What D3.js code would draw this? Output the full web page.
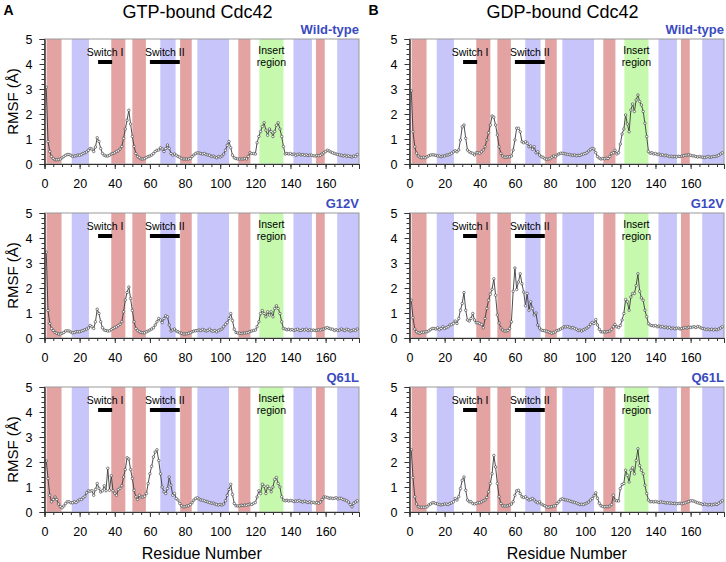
<!DOCTYPE html>
<html>
<head>
<meta charset="utf-8">
<script src="https://cdn.jsdelivr.net/npm/d3@7"></script>
<style>
  body { margin: 0; background: #fff; }
  text { font-family: "Liberation Sans", Arial, sans-serif; fill: #000; }
</style>
</head>
<body>
<svg id="chart" width="726" height="562"></svg>
<script>
// RMSF per residue (Å), residues 1..178
var gtpWT = [3.07,0.9,0.5,0.3,0.22,0.17,0.17,0.18,0.2,0.25,
  0.3,0.35,0.38,0.38,0.35,0.3,0.32,0.33,0.36,0.35,
  0.38,0.42,0.45,0.48,0.55,0.62,0.6,0.5,0.68,1.05,
  0.9,0.62,0.42,0.35,0.32,0.32,0.35,0.4,0.42,0.45,
  0.5,0.53,0.6,0.7,1.02,1.4,1.75,2.15,1.6,1.1,
  0.7,0.42,0.3,0.25,0.2,0.2,0.22,0.26,0.3,0.32,
  0.36,0.42,0.5,0.55,0.56,0.65,0.6,0.5,0.62,0.76,
  0.62,0.42,0.36,0.4,0.35,0.3,0.27,0.22,0.2,0.2,
  0.2,0.2,0.22,0.3,0.36,0.42,0.45,0.44,0.42,0.4,
  0.42,0.38,0.36,0.35,0.3,0.32,0.28,0.25,0.3,0.28,
  0.32,0.4,0.55,0.75,0.9,0.65,0.35,0.25,0.22,0.2,
  0.2,0.2,0.2,0.22,0.2,0.3,0.45,0.42,0.42,0.4,
  0.85,1.1,1.3,1.5,1.65,1.35,1.15,1.4,1.3,1.1,
  1.3,1.55,1.65,1.4,1.1,0.7,0.4,0.42,0.4,0.42,
  0.38,0.4,0.35,0.38,0.4,0.36,0.38,0.35,0.37,0.34,
  0.36,0.35,0.33,0.32,0.34,0.33,0.35,0.4,0.45,0.5,
  0.55,0.52,0.48,0.45,0.42,0.4,0.38,0.36,0.35,0.32,
  0.35,0.3,0.33,0.3,0.28,0.32,0.3,0.38];

var gtpG12V = [3.43,1.1,0.58,0.38,0.3,0.22,0.19,0.16,0.16,0.19,
  0.22,0.28,0.29,0.28,0.24,0.21,0.22,0.25,0.25,0.25,
  0.28,0.3,0.33,0.36,0.4,0.5,0.45,0.38,0.65,1.15,
  0.98,0.65,0.41,0.32,0.3,0.28,0.29,0.34,0.38,0.42,
  0.45,0.5,0.55,0.65,1.05,1.52,1.82,2.04,1.58,1.1,
  0.65,0.38,0.3,0.25,0.22,0.21,0.21,0.25,0.28,0.32,
  0.36,0.41,0.52,0.65,0.78,0.72,0.62,0.78,0.89,0.85,
  0.52,0.28,0.32,0.36,0.28,0.25,0.21,0.19,0.16,0.16,
  0.17,0.19,0.21,0.25,0.28,0.29,0.3,0.32,0.3,0.34,
  0.31,0.28,0.3,0.35,0.29,0.27,0.3,0.25,0.3,0.33,
  0.36,0.45,0.55,0.62,0.78,0.98,0.7,0.35,0.22,0.2,
  0.19,0.18,0.2,0.2,0.21,0.22,0.26,0.28,0.3,0.32,
  0.45,0.65,0.98,1.1,0.98,0.85,1.05,0.92,1.05,0.85,
  1.18,1.29,1.18,0.98,0.65,0.38,0.36,0.33,0.35,0.32,
  0.34,0.3,0.33,0.35,0.31,0.3,0.34,0.32,0.35,0.3,
  0.33,0.3,0.32,0.3,0.31,0.33,0.32,0.35,0.36,0.4,
  0.42,0.38,0.36,0.35,0.3,0.33,0.3,0.32,0.36,0.32,
  0.3,0.35,0.33,0.28,0.3,0.33,0.3,0.36];

var gtpQ61L = [2.04,1.34,0.67,0.41,0.5,0.6,0.5,0.32,0.21,0.17,
  0.24,0.34,0.41,0.41,0.37,0.37,0.41,0.38,0.44,0.5,
  0.5,0.57,0.63,0.77,0.85,0.83,0.85,0.67,0.9,1.14,
  0.95,0.8,0.85,1.05,0.85,1.75,0.87,1.45,0.85,0.75,
  0.67,0.9,0.95,1.05,1.4,1.7,2.17,2.12,1.7,1.34,
  0.87,0.61,0.5,0.67,0.6,0.6,0.63,0.74,1.14,1.53,
  1.83,2.2,2.4,2.49,2.06,1.53,1.0,0.81,0.74,0.94,
  1.4,1.07,0.67,0.74,0.54,0.48,0.34,0.25,0.21,0.21,
  0.24,0.25,0.3,0.37,0.48,0.54,0.57,0.52,0.48,0.47,
  0.45,0.42,0.4,0.38,0.35,0.36,0.32,0.3,0.28,0.3,
  0.28,0.32,0.45,0.67,0.9,1.11,0.7,0.34,0.25,0.24,
  0.25,0.27,0.26,0.28,0.27,0.3,0.32,0.3,0.35,0.38,
  0.6,0.85,0.74,1.11,1.03,0.74,1.03,0.94,0.81,1.0,
  1.3,1.38,1.14,1.0,0.61,0.48,0.45,0.47,0.44,0.46,
  0.45,0.42,0.44,0.43,0.46,0.42,0.4,0.43,0.4,0.38,
  0.41,0.37,0.39,0.36,0.38,0.35,0.4,0.5,0.6,0.6,
  0.58,0.55,0.56,0.54,0.55,0.57,0.52,0.55,0.54,0.5,
  0.48,0.45,0.4,0.3,0.21,0.35,0.4,0.45];

var gdpWT = [2.93,1.29,0.69,0.43,0.32,0.27,0.25,0.27,0.25,0.29,
  0.33,0.36,0.37,0.36,0.35,0.32,0.32,0.29,0.32,0.32,
  0.36,0.36,0.39,0.43,0.49,0.53,0.49,0.56,0.96,1.49,
  1.56,1.03,0.56,0.49,0.45,0.43,0.36,0.45,0.45,0.43,
  0.49,0.56,0.69,0.96,1.25,1.56,1.92,1.87,1.56,1.16,
  0.69,0.43,0.32,0.27,0.27,0.29,0.29,0.32,0.56,0.96,
  1.43,1.43,1.29,0.89,0.85,0.89,0.83,0.69,0.72,0.59,
  0.69,0.45,0.49,0.36,0.29,0.27,0.21,0.19,0.2,0.21,
  0.27,0.32,0.29,0.36,0.4,0.43,0.43,0.42,0.4,0.38,
  0.38,0.36,0.35,0.36,0.33,0.35,0.34,0.38,0.4,0.42,
  0.45,0.52,0.58,0.62,0.6,0.45,0.3,0.24,0.2,0.22,
  0.21,0.23,0.22,0.3,0.42,0.45,0.55,0.4,0.45,0.8,
  1.2,1.4,1.96,1.6,1.29,2.16,2.4,2.1,2.56,2.76,
  2.5,2.36,2.1,1.63,1.1,0.5,0.43,0.45,0.4,0.42,
  0.38,0.4,0.35,0.37,0.33,0.35,0.32,0.3,0.31,0.29,
  0.3,0.29,0.31,0.3,0.32,0.33,0.35,0.36,0.37,0.35,
  0.33,0.32,0.3,0.28,0.3,0.28,0.27,0.26,0.28,0.3,
  0.27,0.28,0.3,0.3,0.32,0.35,0.4,0.45];

var gdpG12V = [1.51,0.81,0.36,0.25,0.21,0.19,0.23,0.23,0.25,0.25,
  0.29,0.34,0.38,0.38,0.36,0.41,0.34,0.38,0.45,0.38,
  0.42,0.45,0.52,0.54,0.58,0.68,0.58,0.78,1.11,1.38,
  1.82,1.11,0.72,0.68,0.78,0.98,0.72,0.61,0.61,0.58,
  0.54,0.41,0.78,1.18,1.51,1.75,1.95,2.37,1.71,0.92,
  0.6,0.4,0.32,0.28,0.28,0.3,0.38,0.65,1.87,2.8,
  1.94,2.24,2.57,2.17,1.84,1.29,1.78,1.11,1.45,1.18,
  0.92,1.0,0.52,0.4,0.32,0.3,0.29,0.27,0.25,0.22,
  0.19,0.22,0.25,0.3,0.32,0.36,0.4,0.45,0.44,0.46,
  0.43,0.4,0.42,0.38,0.35,0.3,0.32,0.28,0.33,0.36,
  0.4,0.45,0.55,0.62,0.58,0.74,0.52,0.35,0.25,0.24,
  0.25,0.24,0.26,0.28,0.35,0.45,0.54,0.45,0.42,0.5,
  0.72,0.98,1.54,1.45,1.11,1.64,1.78,1.78,2.1,2.57,
  1.87,1.6,1.51,1.11,0.85,0.58,0.52,0.5,0.48,0.5,
  0.45,0.48,0.44,0.46,0.42,0.44,0.4,0.43,0.38,0.4,
  0.37,0.39,0.4,0.36,0.38,0.4,0.42,0.4,0.43,0.42,
  0.44,0.45,0.42,0.46,0.44,0.4,0.38,0.36,0.34,0.36,
  0.33,0.35,0.32,0.35,0.33,0.36,0.4,0.45];

var gdpQ61L = [2.49,1.38,0.61,0.32,0.21,0.19,0.19,0.19,0.19,0.21,
  0.28,0.32,0.37,0.37,0.34,0.32,0.3,0.28,0.3,0.32,
  0.32,0.3,0.34,0.37,0.41,0.54,0.48,0.61,0.94,1.27,
  1.4,0.87,0.48,0.41,0.41,0.34,0.32,0.34,0.37,0.37,
  0.41,0.45,0.48,0.58,0.81,1.14,1.53,2.26,1.8,1.14,
  0.61,0.34,0.25,0.24,0.24,0.25,0.28,0.32,0.41,0.67,
  0.85,0.87,0.74,0.61,0.58,0.61,0.54,0.48,0.5,0.54,
  0.48,0.41,0.37,0.41,0.32,0.28,0.25,0.21,0.19,0.21,
  0.21,0.24,0.25,0.34,0.41,0.5,0.53,0.5,0.48,0.47,
  0.45,0.42,0.4,0.38,0.36,0.33,0.3,0.31,0.3,0.33,
  0.36,0.4,0.48,0.54,0.65,0.77,0.55,0.35,0.25,0.22,
  0.21,0.22,0.21,0.24,0.3,0.67,0.48,0.45,0.44,0.94,
  1.1,1.14,1.67,1.47,1.2,1.67,1.77,1.53,2.06,2.53,
  1.86,1.67,1.53,1.07,0.74,0.48,0.41,0.42,0.4,0.42,
  0.4,0.38,0.41,0.39,0.38,0.36,0.37,0.35,0.36,0.34,
  0.35,0.33,0.34,0.35,0.33,0.35,0.37,0.4,0.42,0.45,
  0.45,0.43,0.4,0.37,0.35,0.33,0.3,0.32,0.3,0.28,
  0.3,0.28,0.3,0.32,0.3,0.35,0.4,0.45];

// secondary structure shading (residue ranges)
var bands = [
  {from: 1.2, to: 9.7, kind: "strand"},
  {from: 15.5, to: 25.3, kind: "helix"},
  {from: 38, to: 46, kind: "strand"},
  {from: 50, to: 57.7, kind: "strand"},
  {from: 65.9, to: 74.6, kind: "helix"},
  {from: 77.2, to: 83.8, kind: "strand"},
  {from: 87, to: 105, kind: "helix"},
  {from: 110.3, to: 117.2, kind: "strand"},
  {from: 122.3, to: 136, kind: "insert"},
  {from: 141.7, to: 152.2, kind: "helix"},
  {from: 154.5, to: 159.5, kind: "strand"},
  {from: 166.6, to: 179, kind: "helix"}
];
var switches = [
  {name: "Switch I", from: 30.5, to: 38.5},
  {name: "Switch II", from: 60, to: 77}
];
var columns = ["GTP-bound Cdc42", "GDP-bound Cdc42"];
var columnTags = ["A", "B"];
var variants = ["Wild-type", "G12V", "Q61L"];
var series = [[gtpWT, gtpG12V, gtpQ61L], [gdpWT, gdpG12V, gdpQ61L]];
var xTicks = [0, 20, 40, 60, 80, 100, 120, 140, 160];
var yTicks = [0, 1, 2, 3, 4, 5];

var bandColor = {strand: "#e3a3a3", helix: "#c7c5f9", insert: "#c6f9ae"};

var svg = d3.select("#chart");
var plotW = 314.5, plotH = 125;
var colX = [44.5, 409.5];
var rowY = [39, 213, 387];

var x = d3.scaleLinear().domain([0, 179]).range([0, plotW]);
var y = d3.scaleLinear().domain([0, 5]).range([plotH, 0]);

var line = d3.line()
  .x(function(d, i) { return x(i + 1); })
  .y(function(d) { return y(d); });

columns.forEach(function(title, c) {
  svg.append("text")
    .attr("x", colX[c] + 153).attr("y", 18)
    .attr("text-anchor", "middle")
    .style("font-size", "18px")
    .text(title);
  svg.append("text")
    .attr("x", colX[c] - 41).attr("y", 15)
    .style("font-size", "14px").style("font-weight", "bold")
    .text(columnTags[c]);

  variants.forEach(function(v, r) {
    var g = svg.append("g")
      .attr("transform", "translate(" + colX[c] + "," + rowY[r] + ")");

    g.selectAll("rect.band")
      .data(bands)
      .enter().append("rect")
      .attr("class", "band")
      .attr("x", function(d) { return x(d.from); })
      .attr("width", function(d) { return x(d.to) - x(d.from); })
      .attr("y", 0)
      .attr("height", plotH)
      .attr("fill", function(d) { return bandColor[d.kind]; });

    // switch bars + labels
    switches.forEach(function(s) {
      g.append("rect")
        .attr("x", x(s.from)).attr("width", x(s.to) - x(s.from))
        .attr("y", y(4.08) - 2).attr("height", 4)
        .attr("fill", "#000");
      g.append("text")
        .attr("x", x((s.from + s.to) / 2)).attr("y", y(4.08) - 6)
        .attr("text-anchor", "middle")
        .style("font-size", "10.5px")
        .text(s.name);
    });
    var ins = bands.filter(function(d) { return d.kind == "insert"; })[0];
    g.append("text")
      .attr("x", x((ins.from + ins.to) / 2)).attr("y", 15)
      .attr("text-anchor", "middle").style("font-size", "10.5px")
      .text("Insert");
    g.append("text")
      .attr("x", x((ins.from + ins.to) / 2)).attr("y", 27)
      .attr("text-anchor", "middle").style("font-size", "10.5px")
      .text("region");

    // frame
    g.append("rect")
      .attr("width", plotW).attr("height", plotH)
      .attr("fill", "none").attr("stroke", "#9a9a9a").attr("stroke-width", 1);

    var data = series[c][r];
    g.append("path")
      .datum(data)
      .attr("d", line)
      .attr("fill", "none")
      .attr("stroke", "#3a3a3a")
      .attr("stroke-width", 0.9);
    g.selectAll("circle")
      .data(data)
      .enter().append("circle")
      .attr("cx", function(d, i) { return x(i + 1); })
      .attr("cy", function(d) { return y(d); })
      .attr("r", 1.25)
      .attr("fill", "#fff")
      .attr("stroke", "#333")
      .attr("stroke-width", 0.6);

    // axes
    var yMinor = g.append("g").call(d3.axisLeft(y).ticks(25).tickSize(3).tickFormat(""));
    var yAxis = g.append("g").call(d3.axisLeft(y).tickValues(yTicks)
      .tickFormat(d3.format("d")).tickSize(5).tickPadding(7));
    var xMinor = g.append("g").attr("transform", "translate(0," + plotH + ")")
      .call(d3.axisBottom(x).tickValues(d3.range(0, 179, 5)).tickSize(3).tickFormat(""));
    var xAxis = g.append("g").attr("transform", "translate(0," + plotH + ")")
      .call(d3.axisBottom(x).tickValues(xTicks).tickFormat(d3.format("d"))
        .tickSize(5).tickPadding(10));
    [yMinor, yAxis, xMinor, xAxis].forEach(function(a) {
      a.select(".domain").attr("stroke", "#333");
      a.selectAll(".tick line").attr("stroke", "#333");
      a.selectAll("text").style("font-size", "12.5px")
        .style("font-family", "'Liberation Sans', Arial, sans-serif");
    });

    g.append("text")
      .attr("x", plotW).attr("y", -5)
      .attr("text-anchor", "end")
      .style("font-size", "13px").style("font-weight", "bold")
      .style("fill", "#3a4bbf")
      .text(v);

    if (c == 0) {
      g.append("text")
        .attr("transform", "translate(" + (-27) + "," + (plotH / 2) + ") rotate(-90)")
        .attr("text-anchor", "middle")
        .style("font-size", "15px")
        .text("RMSF (Å)");
    }
    if (r == 2) {
      g.append("text")
        .attr("x", plotW / 2).attr("y", plotH + 47)
        .attr("text-anchor", "middle")
        .style("font-size", "16px")
        .text("Residue Number");
    }
  });
});
</script>
</body>
</html>
